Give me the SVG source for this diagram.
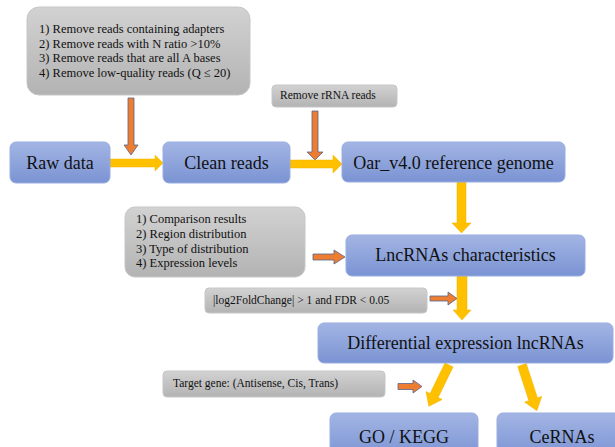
<svg xmlns="http://www.w3.org/2000/svg" width="615" height="447" viewBox="0 0 615 447">
<defs>
<linearGradient id="gb" x1="0" y1="0" x2="0" y2="1"><stop offset="0" stop-color="#a3b5e4"/><stop offset="1" stop-color="#7a93d3"/></linearGradient>
<linearGradient id="gg" x1="0" y1="0" x2="0" y2="1"><stop offset="0" stop-color="#d2d2d2"/><stop offset="1" stop-color="#b3b3b3"/></linearGradient>
</defs>
<style>
.blue{fill:url(#gb);stroke:#9aade0;stroke-width:1}
.gray{fill:url(#gg);stroke:#c6c6c6;stroke-width:1}
text{font-family:'Liberation Serif','Times New Roman','DejaVu Serif',serif;fill:#111}
.big{font-size:18px;text-anchor:middle}
.sm{font-size:12.5px}
.xs{font-size:11.5px}
.ya{fill:#ffc000;stroke:#f0b400;stroke-width:0.5}
.oa{fill:#ed7d31;stroke:#56648f;stroke-width:0.8}
</style>
<rect width="615" height="447" fill="#fff"/>

<g id="connectors">
<polygon class="oa" points="128,98 134,98 134,145 138,145 131,155 124,145 128,145"/>
<polygon class="ya" points="110,159 155,159 155,155 163,163 155,171 155,167 110,167"/>
<polygon class="oa" points="312,111 318,111 318,152 323,152 315,160 307,152 312,152"/>
<polygon class="ya" points="290,160 333,160 333,155 342,164 333,173 333,168 290,168"/>
<polygon class="ya" points="457,182 466,182 466,223 471,223 461.5,233 452,223 457,223"/>
<polygon class="oa" points="313,254 334,254 334,250 345,257 334,264 334,260 313,260"/>
<polygon class="ya" points="457,276 467,276 467,310 471,310 462,320 453,310 457,310"/>
<polygon class="oa" points="430,296 448,296 448,292 457,298.5 448,305 448,301 430,301"/>
<polygon class="oa" points="398,383.5 413,383.5 413,380 422,386.5 413,393 413,389.5 398,389.5"/>
<polygon class="ya" transform="translate(449,365) rotate(116)" points="0,-4.5 34,-4.5 34,-9 46,0 34,9 34,4.5 0,4.5"/>
<polygon class="ya" transform="translate(522,365) rotate(72)" points="0,-4.5 36,-4.5 36,-9 48,0 36,9 36,4.5 0,4.5"/>
</g>

<g id="filter1">
<rect class="gray" x="27" y="7" width="223" height="88" rx="12"/>
<text class="sm" x="39" y="33">1) Remove reads containing adapters</text>
<text class="sm" x="39" y="47.5">2) Remove reads with N ratio &gt;10%</text>
<text class="sm" x="39" y="62">3) Remove reads that are all A bases</text>
<text class="sm" x="39" y="76.5">4) Remove low-quality reads (Q ≤ 20)</text>
</g>

<g id="raw">
<rect class="blue" x="10" y="142" width="100" height="41" rx="6"/>
<text class="big" x="60" y="169">Raw data</text>
</g>

<g id="clean">
<rect class="blue" x="163" y="142" width="127" height="41" rx="6"/>
<text class="big" x="226.5" y="169">Clean reads</text>
</g>

<g id="rrna">
<rect class="gray" x="272" y="85" width="125" height="22" rx="4"/>
<text class="xs" x="280" y="99">Remove rRNA reads</text>
</g>

<g id="oar">
<rect class="blue" x="342" y="142" width="223" height="40" rx="6"/>
<text class="big" x="453.5" y="169">Oar_v4.0 reference genome</text>
</g>

<g id="filter2">
<rect class="gray" x="125" y="207" width="180" height="70" rx="10"/>
<text class="sm" x="136" y="223">1) Comparison results</text>
<text class="sm" x="136" y="237.5">2) Region distribution</text>
<text class="sm" x="136" y="252.5">3) Type of distribution</text>
<text class="sm" x="136" y="266.5">4) Expression levels</text>
</g>

<g id="lnc">
<rect class="blue" x="346" y="235" width="239" height="41" rx="6"/>
<text class="big" x="465.5" y="261">LncRNAs characteristics</text>
</g>

<g id="fdr">
<rect class="gray" x="205" y="288" width="222" height="25" rx="4"/>
<text class="xs" x="213" y="304">|log2FoldChange| &gt; 1 and FDR &lt; 0.05</text>
</g>

<g id="diff">
<rect class="blue" x="318" y="323" width="295" height="40" rx="6"/>
<text class="big" x="465.5" y="349">Differential expression lncRNAs</text>
</g>

<g id="target">
<rect class="gray" x="163" y="371" width="222" height="26" rx="4"/>
<text class="xs" x="173" y="387">Target gene: (Antisense, Cis, Trans)</text>
</g>

<g id="gokegg">
<rect class="blue" x="330" y="413" width="148" height="45" rx="6"/>
<text class="big" x="404" y="443">GO / KEGG</text>
</g>

<g id="cerna">
<rect class="blue" x="497" y="413" width="125" height="45" rx="6"/>
<text class="big" x="562" y="443">CeRNAs</text>
</g>
</svg>
